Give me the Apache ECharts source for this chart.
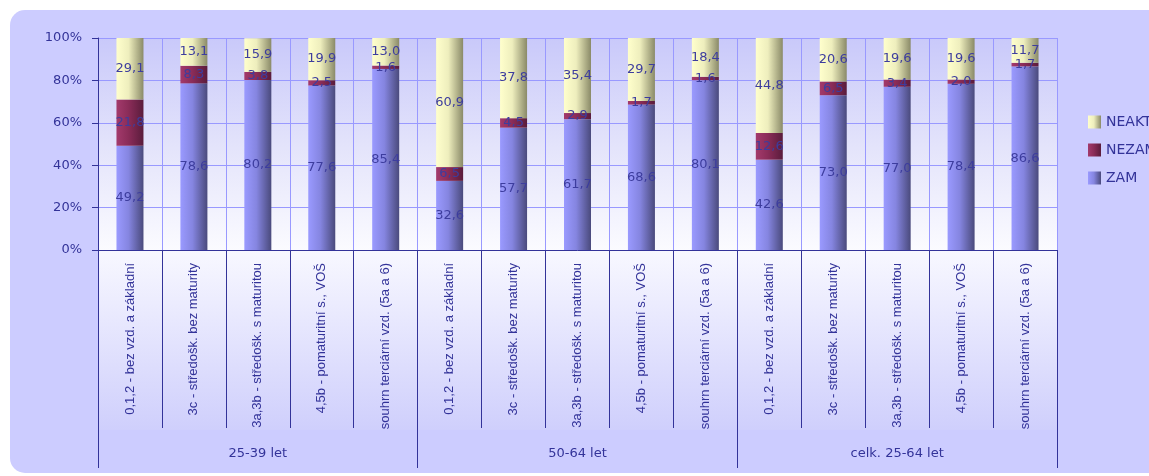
<!DOCTYPE html>
<html><head><meta charset="utf-8">
<script src="https://cdn.jsdelivr.net/npm/echarts@6/dist/echarts.min.js"></script>
<style>html,body{margin:0;padding:0;background:#fff}#c{width:1149px;height:476px}</style>
</head><body><div id="c"></div>
<script>
var categories = ['0,1,2 - bez vzd. a základní','3c - středošk. bez maturity','3a,3b - středošk. s maturitou','4,5b - pomaturitní s., VOŠ','souhrn terciární vzd. (5a a 6)',
  '0,1,2 - bez vzd. a základní','3c - středošk. bez maturity','3a,3b - středošk. s maturitou','4,5b - pomaturitní s., VOŠ','souhrn terciární vzd. (5a a 6)',
  '0,1,2 - bez vzd. a základní','3c - středošk. bez maturity','3a,3b - středošk. s maturitou','4,5b - pomaturitní s., VOŠ','souhrn terciární vzd. (5a a 6)'];
var groups = ['25-39 let','50-64 let','celk. 25-64 let'];
var zam   = [49.2,78.6,80.2,77.6,85.4, 32.6,57.7,61.7,68.6,80.1, 42.6,73.0,77.0,78.4,86.6];
var nezam = [21.8,8.3,3.8,2.5,1.6, 6.5,4.5,2.9,1.7,1.6, 12.6,6.5,3.4,2.0,1.7];
var neakt = [29.1,13.1,15.9,19.9,13.0, 60.9,37.8,35.4,29.7,18.4, 44.8,20.6,19.6,19.6,11.7];
var yTicks = [0,20,40,60,80,100];

var navy = '#333399';
function grad(c0,c1,c2){return {type:'linear',x:0,y:0,x2:1,y2:0,colorStops:[{offset:0,color:c0},{offset:0.45,color:c1},{offset:1,color:c2}]};}
function fmt(p){return p.value.toFixed(1).replace('.',',');}
var lbl = {show:true,position:'inside',color:'#3d3d9e',fontFamily:'DejaVu Sans',fontSize:13,formatter:fmt};
var chart = echarts.init(document.getElementById('c'),null,{renderer:'canvas'});
chart.setOption({
  animation:false,
  backgroundColor:'#ffffff',
  graphic:[
    {type:'rect',z:-10,left:10,top:10,shape:{width:1180,height:463,r:15},style:{fill:'#ccccff'}},
    {type:'rect',z:-9,left:98,top:250,shape:{width:959,height:180},style:{fill:{type:'linear',x:0,y:0,x2:0,y2:1,colorStops:[{offset:0,color:'#f8f8ff'},{offset:1,color:'#cfcffc'}]}}}
  ],
  grid:{left:98,right:92,top:38,bottom:226,show:true,borderWidth:0,
    backgroundColor:{type:'linear',x:0,y:0,x2:0,y2:1,colorStops:[{offset:0,color:'#c9c9fa'},{offset:0.5,color:'#e3e3fb'},{offset:1,color:'#fbfbff'}]}},
  legend:{orient:'vertical',left:1083,top:110,itemWidth:13,itemHeight:13,itemGap:14,icon:'rect',
    data:['NEAKT','NEZAM','ZAM'],textStyle:{color:navy,fontFamily:'DejaVu Sans',fontSize:14}},
  xAxis:[
    {type:'category',data:categories,position:'bottom',offset:0,
      axisLine:{show:true,lineStyle:{color:navy,width:1}},
      axisTick:{show:true,interval:0,length:178,lineStyle:{color:navy}},
      splitLine:{show:true,interval:0,lineStyle:{color:'#9999ff'}},
      axisLabel:{interval:0,rotate:90,margin:13,color:navy,fontFamily:'Liberation Sans',fontSize:13}},
    {type:'category',data:groups,position:'bottom',offset:0,
      axisLine:{show:false},
      axisTick:{show:true,interval:0,length:218,lineStyle:{color:navy}},
      splitLine:{show:false},
      axisLabel:{interval:0,margin:197,color:navy,fontFamily:'DejaVu Sans',fontSize:13}}
  ],
  yAxis:{type:'value',min:yTicks[0],max:yTicks[yTicks.length-1],interval:20,
    axisLine:{show:true,lineStyle:{color:navy}},
    axisTick:{show:true,length:6,lineStyle:{color:navy}},
    splitLine:{show:true,lineStyle:{color:'#9999ff'}},
    axisLabel:{formatter:'{value}%',margin:16,color:navy,fontFamily:'DejaVu Sans',fontSize:13}},
  series:[
    {name:'ZAM',type:'bar',stack:'s',barWidth:27,data:zam,itemStyle:{color:grad('#9a9aff','#8585e0','#4a4a7c')},label:lbl},
    {name:'NEZAM',type:'bar',stack:'s',barWidth:27,data:nezam,itemStyle:{color:grad('#a33a6c','#8a2c58','#5a1c3c')},label:lbl},
    {name:'NEAKT',type:'bar',stack:'s',barWidth:27,data:neakt,itemStyle:{color:grad('#ffffcc','#eeeebd','#8a8a68')},label:lbl}
  ]
});
</script></body></html>
